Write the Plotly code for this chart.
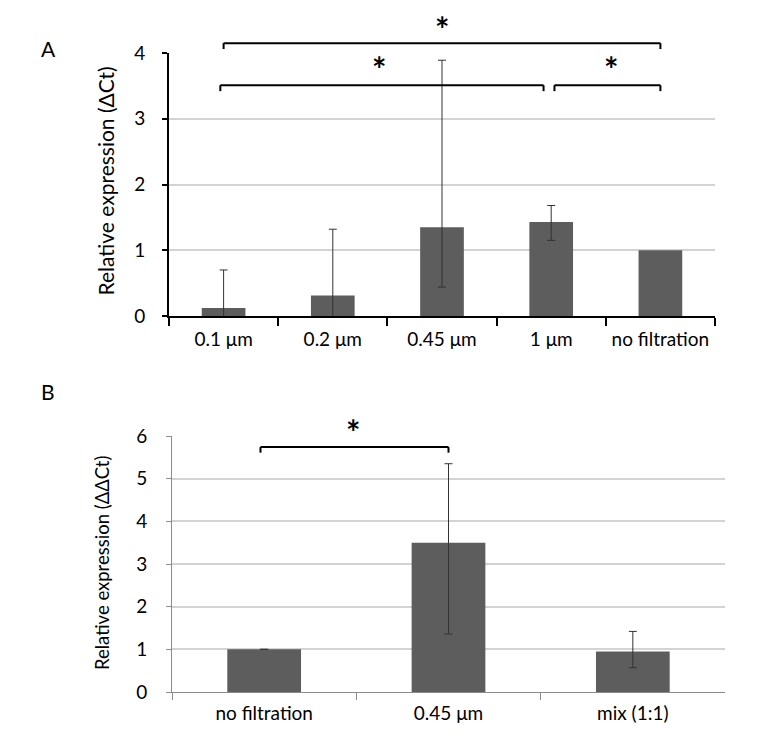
import plotly.graph_objects as go

# ---------------- data ----------------
categories_a = ["0.1 μm", "0.2 μm", "0.45 μm", "1 μm", "no filtration"]
values_a = [0.12, 0.31, 1.35, 1.43, 1.0]
# "no filtration" (reference) has no error bar -> arrays cover the first four bars only
err_plus_a = [0.58, 1.01, 2.54, 0.25]
err_minus_a = [0.58, 1.01, 0.91, 0.28]
yticks_a = [0, 1, 2, 3, 4]

categories_b = ["no filtration", "0.45 μm", "mix (1:1)"]
values_b = [1.0, 3.5, 0.95]
err_plus_b = [0.0, 1.85, 0.47]
err_minus_b = [0.0, 2.14, 0.38]
yticks_b = [0, 1, 2, 3, 4, 5, 6]

# significance brackets: (start index, end index, height)
brackets_a = [(0.0, 4.0, 4.15), (-0.03, 2.93, 3.51), (3.03, 4.0, 3.51)]
stars_a = [(2.0, 4.37), (1.42, 3.76), (3.55, 3.76)]
brackets_b = [(-0.02, 1.0, 5.74)]
stars_b = [(0.48, 6.1)]

# ---------------- layout geometry ----------------
W, H = 780, 750
xdom_a = [161 / W, 707 / W]
ydom_a = [1 - 308 / H, 1 - 45 / H]
xdom_b = [164 / W, 717 / W]
ydom_b = [1 - 684 / H, 1 - 428 / H]
yr_a = [0, 4]
yr_b = [0, 6]

FONT = "Lato"
BAR = "#5d5d5d"


def px(i, dom, n):
    return dom[0] + (i + 0.5) / n * (dom[1] - dom[0])


def py(v, dom, rng):
    return dom[0] + (v - rng[0]) / (rng[1] - rng[0]) * (dom[1] - dom[0])


fig = go.Figure()
fig.add_trace(go.Bar(
    x=categories_a, y=values_a, marker=dict(color=BAR, line=dict(width=0)),
    width=0.4,
    error_y=dict(type="data", symmetric=False, array=err_plus_a, arrayminus=err_minus_a,
                 color="#333333", thickness=1, width=4),
    xaxis="x", yaxis="y", showlegend=False,
))
fig.add_trace(go.Bar(
    x=categories_b, y=values_b, marker=dict(color=BAR, line=dict(width=0)),
    width=0.4,
    error_y=dict(type="data", symmetric=False, array=err_plus_b, arrayminus=err_minus_b,
                 color="#333333", thickness=1, width=4),
    xaxis="x2", yaxis="y2", showlegend=False,
))

shapes = []
annotations = []


def add_bracket(x0, x1, yv, xdom, ydom, yr, n, drop):
    X0, X1 = px(x0, xdom, n), px(x1, xdom, n)
    Y = py(yv, ydom, yr)
    Yd = py(yv - drop, ydom, yr)
    for (a, b, c, d) in [(X0, Y, X1, Y), (X0, Y, X0, Yd), (X1, Y, X1, Yd)]:
        shapes.append(dict(type="line", xref="paper", yref="paper", x0=a, y0=b, x1=c, y1=d,
                           line=dict(color="black", width=2)))


def add_star(xv, yv, xdom, ydom, yr, n):
    annotations.append(dict(text="<b>*</b>", xref="paper", yref="paper",
                            x=px(xv, xdom, n), y=py(yv, ydom, yr),
                            xanchor="center", yanchor="middle", showarrow=False,
                            font=dict(family=FONT, size=34, color="black")))


for b in brackets_a:
    add_bracket(b[0], b[1], b[2], xdom_a, ydom_a, yr_a, len(categories_a), 0.09)
for s in stars_a:
    add_star(s[0], s[1], xdom_a, ydom_a, yr_a, len(categories_a))
for b in brackets_b:
    add_bracket(b[0], b[1], b[2], xdom_b, ydom_b, yr_b, len(categories_b), 0.13)
for s in stars_b:
    add_star(s[0], s[1], xdom_b, ydom_b, yr_b, len(categories_b))

# panel letters and axis titles
annotations += [
    dict(text="A", xref="paper", yref="paper", x=40 / W, y=1 - 41 / H, showarrow=False,
         xanchor="center", yanchor="middle", font=dict(family=FONT, size=21, color="black")),
    dict(text="B", xref="paper", yref="paper", x=40 / W, y=1 - 383 / H, showarrow=False,
         xanchor="center", yanchor="middle", font=dict(family=FONT, size=21, color="black")),
    dict(text="Relative expression (ΔCt)", xref="paper", yref="paper", x=97 / W,
         y=(ydom_a[0] + ydom_a[1]) / 2 + 3 / H, textangle=-90, showarrow=False,
         xanchor="center", yanchor="middle", font=dict(family=FONT, size=21, color="black")),
    dict(text="Relative expression (ΔΔCt)", xref="paper", yref="paper", x=94 / W,
         y=(ydom_b[0] + ydom_b[1]) / 2 + 1 / H, textangle=-90, showarrow=False,
         xanchor="center", yanchor="middle", font=dict(family=FONT, size=18.5, color="black")),
]

tickfont = dict(family=FONT, size=19, color="black")

fig.update_layout(
    width=W, height=H,
    margin=dict(l=0, r=0, t=0, b=0),
    paper_bgcolor="white", plot_bgcolor="white",
    bargap=0.6,
    shapes=shapes, annotations=annotations,
    xaxis=dict(domain=xdom_a, anchor="y", type="category", range=[-0.5, 4.5],
               showline=True, linecolor="black", linewidth=2, tickangle=0,
               ticks="outside", tickson="boundaries", ticklen=8, tickwidth=2, tickcolor="black",
               showgrid=False, tickfont=tickfont, ticklabelstandoff=5, automargin=False),
    yaxis=dict(domain=ydom_a, anchor="x", range=yr_a, tickvals=yticks_a,
               showline=True, linecolor="black", linewidth=2,
               ticks="outside", ticklen=5, tickwidth=2, tickcolor="black",
               showgrid=True, gridcolor="#d3d3d3", gridwidth=1.5,
               zeroline=False, tickfont=tickfont, ticklabelstandoff=13, automargin=False),
    xaxis2=dict(domain=xdom_b, anchor="y2", type="category", range=[-0.5, 2.5],
                showline=True, linecolor="#8c8c8c", linewidth=1, tickangle=0,
                ticks="outside", tickson="boundaries", ticklen=7, tickwidth=1, tickcolor="#8c8c8c",
                showgrid=False, tickfont=tickfont, ticklabelstandoff=4, automargin=False),
    yaxis2=dict(domain=ydom_b, anchor="x2", range=yr_b, tickvals=yticks_b,
                showline=True, linecolor="#8c8c8c", linewidth=1,
                ticks="outside", ticklen=5, tickwidth=1, tickcolor="#8c8c8c",
                showgrid=True, gridcolor="#d3d3d3", gridwidth=1.5,
                zeroline=False, tickfont=tickfont, ticklabelstandoff=15, automargin=False),
)

fig.write_html("out.html")
